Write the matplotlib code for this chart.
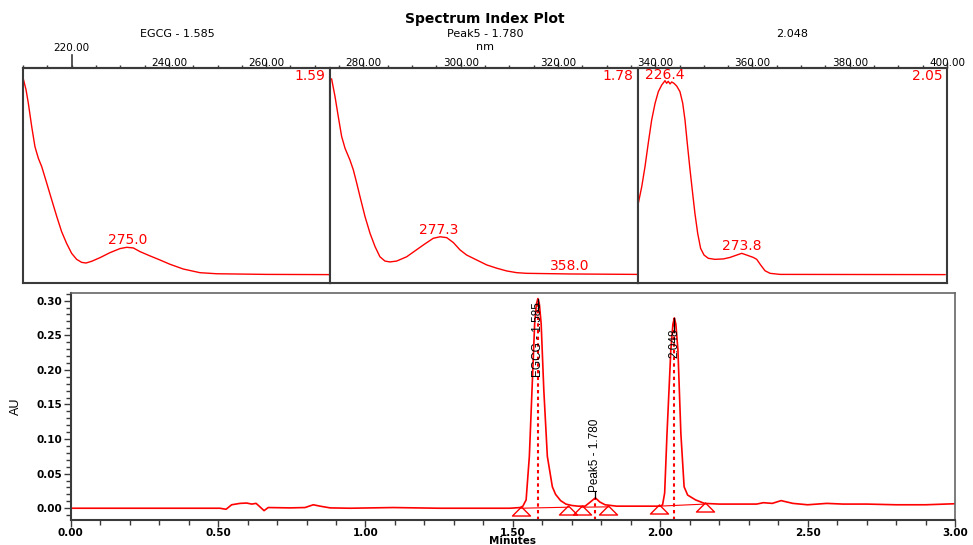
import numpy as np
import matplotlib.pyplot as plt
from matplotlib.path import Path
from matplotlib.ticker import MultipleLocator, FixedLocator

W, H = 973, 545
RED = '#ff0000'
FRAME = '#3a3a3a'
NARROW = ['Liberation Sans', 'DejaVu Sans']

# --- spectra (wavelength nm, relative absorbance) ---
egcg_nm = [210.2, 211.9, 213.3, 215.4, 217.4, 219.5, 221.6, 224.7, 227.8, 230.9, 233.9,
           237.0, 240.1, 243.2, 246.3, 249.0, 252.5, 257.7, 263.8, 270.0, 274.2, 278.3,
           282.4, 288.6, 294.8, 301.0, 309.2, 319.5, 329.9, 360.8, 400.0]
egcg_abs = [0.949, 0.898, 0.836, 0.727, 0.634, 0.580, 0.541, 0.464, 0.386, 0.309, 0.239,
            0.184, 0.138, 0.110, 0.096, 0.093, 0.101, 0.118, 0.141, 0.160, 0.166, 0.163,
            0.146, 0.126, 0.107, 0.087, 0.065, 0.048, 0.043, 0.040, 0.039]

peak5_nm = [211.0, 213.1, 215.1, 217.2, 219.3, 222.3, 224.4, 226.5, 228.5, 231.6, 234.7,
            237.8, 240.8, 243.9, 247.0, 251.1, 257.3, 267.6, 273.7, 277.9, 282.0, 286.1,
            290.2, 294.3, 300.5, 306.7, 312.8, 319.0, 325.2, 331.3, 358.0, 399.2]
peak5_abs = [0.949, 0.867, 0.774, 0.681, 0.626, 0.572, 0.526, 0.464, 0.402, 0.309, 0.231,
             0.169, 0.122, 0.102, 0.098, 0.102, 0.122, 0.177, 0.208, 0.215, 0.211, 0.188,
             0.154, 0.130, 0.107, 0.084, 0.069, 0.056, 0.048, 0.045, 0.042, 0.040]

p3_nm = [210.2, 212.3, 214.3, 216.3, 218.4, 220.5, 222.5, 224.6, 226.6, 227.6, 228.6, 229.7,
         230.7, 232.1, 233.8, 235.8, 237.5, 238.9, 240.3, 242.0, 243.6, 245.0, 246.7, 248.5,
         250.6, 253.2, 257.3, 262.5, 266.6, 270.7, 273.8, 276.8, 280.9, 283.0, 285.4, 288.1,
         291.2, 297.3, 398.8]
p3_abs = [0.371, 0.448, 0.541, 0.650, 0.758, 0.836, 0.890, 0.921, 0.941, 0.929, 0.938, 0.926,
          0.935, 0.929, 0.916, 0.890, 0.836, 0.758, 0.650, 0.526, 0.417, 0.324, 0.231, 0.161,
          0.130, 0.115, 0.110, 0.112, 0.119, 0.130, 0.138, 0.130, 0.119, 0.110, 0.084, 0.057,
          0.045, 0.040, 0.039]

spectra = [(egcg_nm, egcg_abs), (peak5_nm, peak5_abs), (p3_nm, p3_abs)]
spec_titles = ['EGCG - 1.585', 'Peak5 - 1.780', '2.048']
spec_rt_short = ['1.59', '1.78', '2.05']
spec_peak_nm = [[275.0], [277.3, 358.0], [226.4, 273.8]]
spec_peak_lbl_y = [[0.200], [0.2465, 0.079], [0.967, 0.172]]

# --- chromatogram (minutes, AU) ---
chrom_t = [0.00, 0.25, 0.50, 0.506, 0.527, 0.546, 0.574, 0.597, 0.614, 0.629, 0.642, 0.656,
           0.670, 0.744, 0.795, 0.823, 0.846, 0.880, 0.947, 1.094, 1.25, 1.49, 1.525,
           1.534, 1.545, 1.556, 1.565, 1.574, 1.580, 1.585, 1.590, 1.596, 1.605, 1.617,
           1.634, 1.645, 1.662, 1.680, 1.700, 1.720, 1.745, 1.760, 1.780, 1.795, 1.813,
           1.852, 1.90, 1.95, 2.000, 2.008, 2.015, 2.023, 2.036, 2.043, 2.048, 2.053,
           2.060, 2.070, 2.081, 2.093, 2.120, 2.150, 2.20, 2.25, 2.30, 2.327, 2.35, 2.38,
           2.41, 2.45, 2.50, 2.565, 2.62, 2.70, 2.80, 2.90, 3.00]
chrom_au = [0.000, 0.000, 0.000, 0.000, -0.0015, 0.005, 0.007, 0.0075, 0.006, 0.007, 0.002,
            -0.0035, 0.001, 0.0005, 0.001, 0.005, 0.003, 0.0005, 0.000, 0.001, 0.000, 0.000,
            0.001, 0.003, 0.012, 0.075, 0.171, 0.267, 0.295, 0.303, 0.295, 0.267, 0.171,
            0.075, 0.031, 0.020, 0.011, 0.006, 0.004, 0.003, 0.003, 0.008, 0.015, 0.009,
            0.005, 0.003, 0.003, 0.003, 0.003, 0.005, 0.022, 0.108, 0.229, 0.266, 0.275,
            0.266, 0.229, 0.108, 0.031, 0.019, 0.012, 0.007, 0.006, 0.006, 0.006, 0.006,
            0.008, 0.007, 0.011, 0.007, 0.005, 0.007, 0.006, 0.006, 0.005, 0.005, 0.0065]

peak_names = ['EGCG - 1.585', 'Peak5 - 1.780', '2.048']
peak_rt = [1.585, 1.780, 2.048]
peak_height = [0.303, 0.015, 0.275]
label_lo = [0.190, 0.0235, 0.217]
label_hi = [0.287, 0.117, 0.255]

base_t0 = [1.526, 1.733, 1.996]
base_t1 = [1.688, 1.824, 2.152]
base_y0 = [0.000, 0.0015, 0.003]
base_y1 = [0.0015, 0.002, 0.006]


def px_box(x0, y0, x1, y1):
    return [x0 / W, 1 - y1 / H, (x1 - x0) / W, (y1 - y0) / H]


fig = plt.figure(figsize=(W / 100, H / 100), dpi=100)

# ---------- spectrum panels ----------
panel_x = [(23, 330), (330, 638), (638, 947)]
for i, (x0, x1) in enumerate(panel_x):
    ax = fig.add_axes(px_box(x0, 68, x1, 283))
    nm, ab = spectra[i]
    ax.plot(nm, ab, color=RED, lw=1)
    ax.set_xlim(210, 400)
    ax.set_ylim(0, 1)
    ax.set_xticks([])
    ax.set_yticks([])
    for s in ax.spines.values():
        s.set_color(FRAME)
        s.set_linewidth(1.5)
    ax.text(0.985, 0.963, spec_rt_short[i], transform=ax.transAxes, color=RED,
            ha='right', va='center', fontsize=10)
    for wl, ly in zip(spec_peak_nm[i], spec_peak_lbl_y[i]):
        ax.text(wl, ly, f'{wl:.1f}', color=RED, ha='center', va='center', fontsize=10)

# continuous wavelength axis across the top
axt = fig.add_axes(px_box(23, 68, 947, 283))
axt.patch.set_visible(False)
for side in ['left', 'right', 'bottom']:
    axt.spines[side].set_visible(False)
axt.spines['top'].set_color(FRAME)
axt.spines['top'].set_linewidth(1.5)
axt.set_xlim(210, 400)
axt.set_ylim(0, 1)
axt.set_yticks([])
axt.xaxis.tick_top()
axt.xaxis.set_major_locator(FixedLocator(np.arange(240, 401, 20)))
axt.xaxis.set_minor_locator(MultipleLocator(5))
axt.xaxis.set_major_formatter(lambda v, p: f'{v:.2f}')
axt.tick_params(axis='x', which='major', length=4, width=1, color=FRAME, pad=-4,
                labelsize=7.5)
axt.tick_params(axis='x', which='minor', length=2, width=1, color=FRAME)
# 220 nm tick drawn taller, with its label raised
trans = axt.get_xaxis_transform()
axt.plot([220, 220], [1, 1 + 13 / 215], transform=trans, color=FRAME, lw=1.2,
         clip_on=False)
axt.text(220, 1 + 20 / 215, '220.00', transform=trans, ha='center', va='center',
         fontsize=7.5)

fig.text(485 / W, 1 - 19 / H, 'Spectrum Index Plot', ha='center', va='center',
         fontsize=10, fontweight='bold')
for xc, t in zip([177, 485, 792], spec_titles):
    fig.text(xc / W, 1 - 34 / H, t, ha='center', va='center', fontsize=8)
fig.text(485 / W, 1 - 47 / H, 'nm', ha='center', va='center', fontsize=8)

# ---------- chromatogram ----------
ax = fig.add_axes(px_box(70.7, 293, 955, 520))
ax.set_xlim(0, 3.0)
ax.set_ylim(-0.017, 0.311)
ax.plot(chrom_t, chrom_au, color=RED, lw=1.2)

# integration baselines and markers
flat_tri = Path([(-1, -0.5), (1, -0.5), (0, 0.5), (-1, -0.5)],
                [Path.MOVETO, Path.LINETO, Path.LINETO, Path.CLOSEPOLY])
for t0, t1, y0, y1 in zip(base_t0, base_t1, base_y0, base_y1):
    ax.plot([t0, t1], [y0, y1], color=RED, lw=0.8)
    ax.plot([t0, t1], [y0 - 0.0045, y1 - 0.0045], ls='none', marker=flat_tri,
            markersize=13, mfc='none', mec=RED, mew=1)

ax.vlines(peak_rt, -0.017, peak_height, colors=RED, linestyles=(0, (1.6, 1.6)), lw=1.5)
for name, rt, h, lo, hi in zip(peak_names, peak_rt, peak_height, label_lo, label_hi):
    ax.text(rt, lo, name, rotation=90, ha='center', va='bottom', fontsize=8.5,
            family=NARROW)
    if lo > h:
        ax.plot([rt, rt], [h, lo], color='black', lw=0.9)
    else:
        ax.plot([rt, rt], [hi, h], color='black', lw=0.9)

ax.xaxis.set_major_locator(MultipleLocator(0.5))
ax.xaxis.set_minor_locator(MultipleLocator(0.1))
ax.yaxis.set_major_locator(MultipleLocator(0.05))
ax.yaxis.set_minor_locator(MultipleLocator(0.01))
ax.xaxis.set_major_formatter(lambda v, p: f'{v:.2f}')
ax.yaxis.set_major_formatter(lambda v, p: f'{v:.2f}')
ax.tick_params(which='major', length=5, width=1, color=FRAME, labelsize=7.5, pad=1)
ax.tick_params(which='minor', length=3.5, width=1, color=FRAME)
for lbl in ax.get_xticklabels() + ax.get_yticklabels():
    lbl.set_fontweight('bold')
for side, s in ax.spines.items():
    s.set_color(FRAME if side in ('left', 'bottom') else '#666666')
    s.set_linewidth(1.5 if side in ('left', 'bottom') else 1.2)

ax.set_ylabel('AU', fontsize=9, family=NARROW)
ax.yaxis.set_label_coords((22 - 70.7) / 884.3, 0.5)
ax.set_xlabel('Minutes', fontsize=7.5, fontweight='bold')
ax.xaxis.set_label_coords(0.5, (520 - 541.5) / 227)
ax.xaxis.label.set_va('center')

fig.savefig('out.png', dpi=100)
